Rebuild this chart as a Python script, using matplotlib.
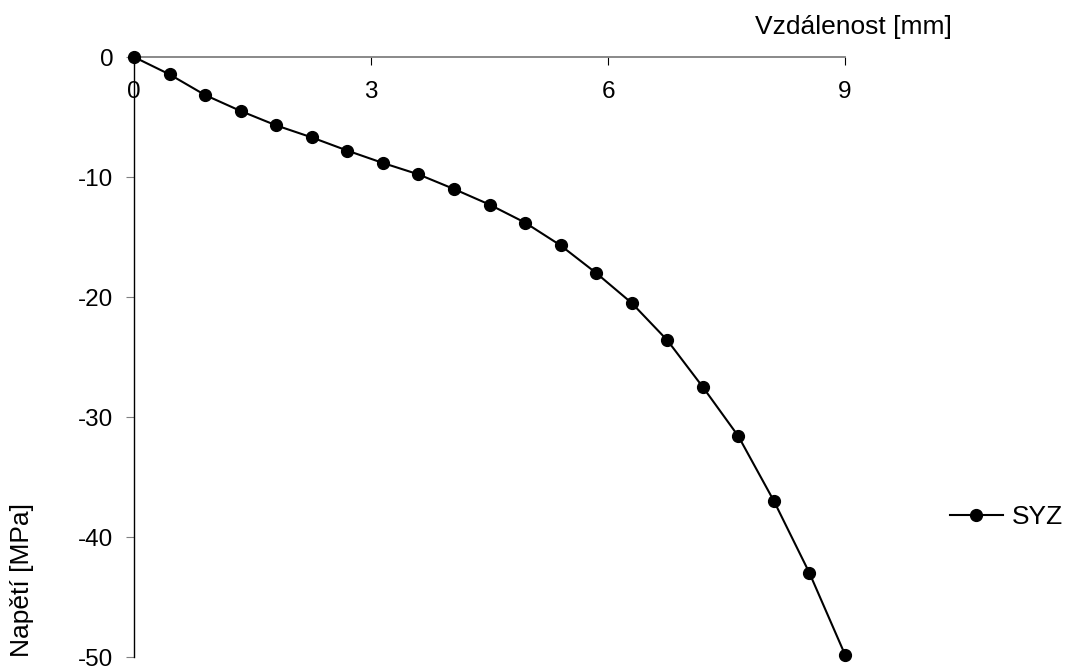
import matplotlib.pyplot as plt

plt.rcParams['font.family'] = ['Liberation Sans', 'DejaVu Sans']
plt.rcParams['axes.unicode_minus'] = False

# data
vzdalenost = [0.0, 0.45, 0.9, 1.35, 1.8, 2.25, 2.7, 3.15, 3.6, 4.05, 4.5,
              4.95, 5.4, 5.85, 6.3, 6.75, 7.2, 7.65, 8.1, 8.55, 9.0]
syz = [0.0, -1.45, -3.17, -4.5, -5.7, -6.7, -7.8, -8.83, -9.78, -11.0, -12.3,
       -13.8, -15.7, -18.0, -20.5, -23.6, -27.5, -31.6, -37.0, -43.0, -49.8]
x_ticks = [0, 3, 6, 9]
y_ticks = [0, -10, -20, -30, -40, -50]

W, H = 1076, 670
fig = plt.figure(figsize=(W / 100, H / 100), dpi=100)
ax = fig.add_axes([134 / W, 1 - 657 / H, (845 - 134) / W, (657 - 57) / H])

ax.plot(vzdalenost, syz, color='black', lw=1.5, marker='o', ms=8.5,
        clip_on=False, zorder=5, label='SYZ')

ax.set_xlim(0, 9)
ax.set_ylim(-50, 0)
ax.set_xticks(x_ticks)
ax.set_yticks(y_ticks)

# x axis runs along y = 0 at the top
ax.spines['bottom'].set_position(('data', 0))
ax.spines['bottom'].set_color('#808080')
ax.spines['bottom'].set_linewidth(1.3)
ax.spines['top'].set_visible(False)
ax.spines['right'].set_visible(False)
ax.spines['left'].set_color('black')
ax.spines['left'].set_linewidth(1.0)

ax.tick_params(axis='x', direction='out', length=6, width=0.8, pad=11,
               labelsize=17.5, color='black')
ax.tick_params(axis='y', direction='out', length=6, width=0.8, pad=9,
               labelsize=17.5, color='#808080')

fig.text(952 / W, 1 - 27 / H, 'Vzdálenost [mm]', ha='right', va='center',
         fontsize=19)
fig.text(22 / W, 1 - 580 / H, 'Napětí [MPa]', ha='center', va='center',
         rotation=90, fontsize=19)

fig.legend(loc='center left', bbox_to_anchor=(950 / W, 1 - 517 / H),
           frameon=False, fontsize=19, handlelength=2.0, handletextpad=0.35,
           borderpad=0, borderaxespad=0)

fig.savefig('out.png', dpi=100)
